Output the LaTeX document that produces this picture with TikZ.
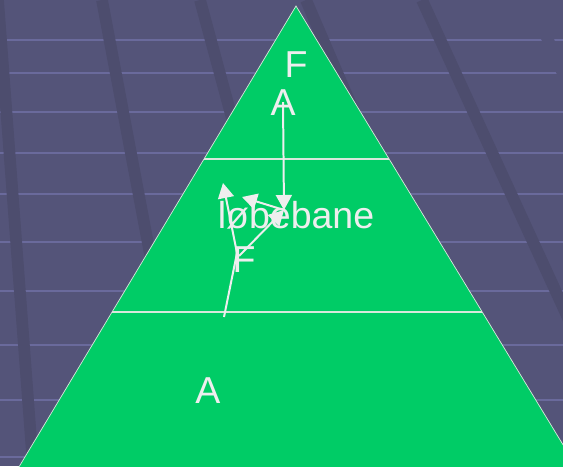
\documentclass[tikz,border=0pt]{standalone}
\usepackage{fontspec}
\setmainfont{Liberation Sans}
\usetikzlibrary{arrows.meta}
\definecolor{slate}{HTML}{545479}
\definecolor{stripe}{HTML}{6A6A9C}
\definecolor{streak}{HTML}{4D4D6E}
\definecolor{lawn}{HTML}{00CC66}
\definecolor{chalk}{HTML}{EEEEEE}
\definecolor{rim}{HTML}{D8E8DC}
\tikzstyle{lettering} = [text=chalk, font=\fontsize{32}{36}\selectfont, inner sep=0pt, anchor=base]
\tikzstyle{force} = [draw=chalk, line width=1.7pt, -{Triangle[width=0.48cm,length=0.45cm]}]
\tikzstyle{band} = [draw=streak, line width=10pt]
\tikzstyle{ruler} = [draw=stripe, line width=2pt]

\begin{document}
\begin{tikzpicture}[x=0.03cm, y=-0.03cm]
    \useasboundingbox (0,0) rectangle (563,466);
    \clip (0,0) rectangle (563,466);
    % background
    \fill[slate] (0,0) rectangle (563,466);
    \foreach \y in {40,73,112,153,194,242,291,345,400,457}
        \draw[ruler] (0,\y) -- (563,\y);
    \draw[band] (-2,0) -- (33,466);
    \draw[band] (102,0) -- (190,466);
    \draw[band] (200,0) -- (326,466);
    \draw[band] (306,0) -- (506,466);
    \draw[band] (422,0) -- (636,466);
    \draw[band, draw=slate] (530,0) -- (640,245);

    % pyramid
    \coordinate (apex) at (296,6);
    \coordinate (baseL) at (16.5,471);
    \coordinate (baseR) at (579,471);
    \filldraw[fill=lawn, draw=rim, line width=0.6pt] (apex) -- (baseL) -- (baseR) -- cycle;
    \draw[rim, line width=1pt] (204,159) -- (389,159);
    \draw[rim, line width=1pt] (112,312) -- (482,312);

    \node (Ftop) [lettering] at (296,77) {F};
    \node (Atop) [lettering] at (283,115) {A};
    \node (track) [lettering] at (296,228) {løbebane};
    \node (Flow) [lettering] at (244,272) {F};
    \node (Abot) [lettering] at (208,403) {A};

    \coordinate (hub) at (284,210);
    \coordinate (foot) at (224,317);
    \coordinate (knee) at (237,253);
    \coordinate (upTip) at (223,183);
    \coordinate (leftTip) at (242,197);
    \coordinate (slant) at (239,256);

    \draw [force] (Atop.center) -- (hub);
    \draw [force] (slant) -- (hub);
    \draw [force] (hub) -- (leftTip);
    \draw [force] (foot) -- (knee) -- (upTip);
\end{tikzpicture}
\end{document}
